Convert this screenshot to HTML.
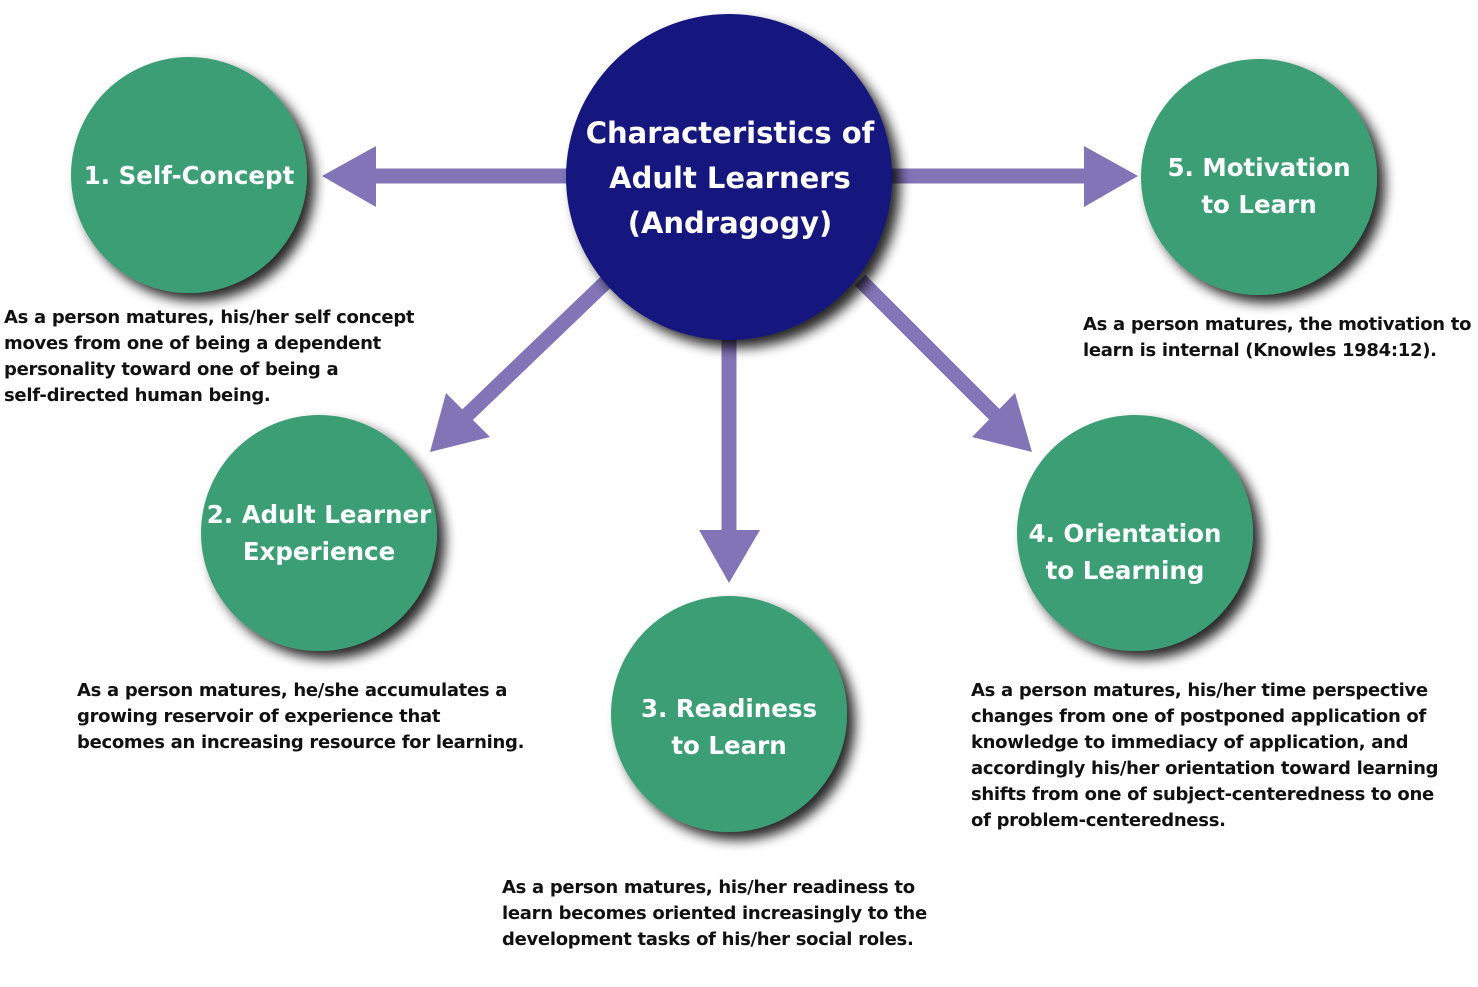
<!DOCTYPE html>
<html><head><style>
html,body{margin:0;padding:0;background:#fff;}
body{width:1478px;height:987px;position:relative;overflow:hidden;font-family:"DejaVu Sans","Liberation Sans",sans-serif;}
.t{position:absolute;font-size:18px;line-height:26px;color:#111;font-weight:600;letter-spacing:-0.3px;white-space:nowrap;}
.c{position:absolute;color:#fff;font-weight:bold;text-align:center;white-space:nowrap;}
</style></head><body>
<svg width="1478" height="987" style="position:absolute;left:0;top:0">
<defs>
<filter id="sh" x="-30%" y="-30%" width="160%" height="160%">
<feGaussianBlur in="SourceAlpha" stdDeviation="6"/>
<feOffset dx="8" dy="8" result="b"/>
<feComponentTransfer><feFuncA type="linear" slope="0.85"/></feComponentTransfer>
<feMerge><feMergeNode/><feMergeNode in="SourceGraphic"/></feMerge>
</filter>
</defs>
<g fill="#8175b7" stroke="#8175b7">
<line x1="570" y1="176" x2="370" y2="176" stroke-width="15"/>
<polygon points="322,176 376,146 376,207" stroke="none"/>
<line x1="890" y1="176" x2="1090" y2="176" stroke-width="15"/>
<polygon points="1138,176 1084,146 1084,207" stroke="none"/>
<line x1="729" y1="330" x2="729" y2="535" stroke-width="15"/>
<polygon points="729,583 699,530 760,530" stroke="none"/>
<line x1="608" y1="280" x2="462" y2="420" stroke-width="15"/>
<polygon points="430,452 446,393 490,437" stroke="none"/>
<line x1="860" y1="280" x2="1000" y2="420" stroke-width="15"/>
<polygon points="1032,452 1015,393 972,437" stroke="none"/>
</g>
<g filter="url(#sh)">
<circle cx="729" cy="177" r="163" fill="#14127f"/>
<circle cx="189" cy="175" r="118" fill="#3a9e74"/>
<circle cx="1259" cy="177" r="118" fill="#3a9e74"/>
<circle cx="319" cy="533" r="118" fill="#3a9e74"/>
<circle cx="729" cy="714" r="118" fill="#3a9e74"/>
<circle cx="1135" cy="533" r="118" fill="#3a9e74"/>
</g>
</svg>
<div class="c" style="left:567px;width:326px;top:111px;font-size:29px;line-height:45px;">Characteristics of<br>Adult Learners<br>(Andragogy)</div>
<div class="c" style="left:71px;width:236px;top:157px;font-size:24.5px;line-height:37px;">1. Self-Concept</div>
<div class="c" style="left:1141px;width:236px;top:149px;font-size:24.5px;line-height:37px;">5. Motivation<br>to Learn</div>
<div class="c" style="left:201px;width:236px;top:496px;font-size:24.5px;line-height:37px;">2. Adult Learner<br>Experience</div>
<div class="c" style="left:611px;width:236px;top:690px;font-size:24.5px;line-height:37px;">3. Readiness<br>to Learn</div>
<div class="c" style="left:1007px;width:236px;top:515px;font-size:24.5px;line-height:37px;">4. Orientation<br>to Learning</div>
<div class="t" style="left:4px;top:305px;">As a person matures, his/her self concept<br>moves from one of being a dependent<br>personality toward one of being a<br>self-directed human being.</div>
<div class="t" style="left:1083px;top:312px;">As a person matures, the motivation to<br>learn is internal (Knowles 1984:12).</div>
<div class="t" style="left:77px;top:678px;">As a person matures, he/she accumulates a<br>growing reservoir of experience that<br>becomes an increasing resource for learning.</div>
<div class="t" style="left:971px;top:678px;">As a person matures, his/her time perspective<br>changes from one of postponed application of<br>knowledge to immediacy of application, and<br>accordingly his/her orientation toward learning<br>shifts from one of subject-centeredness to one<br>of problem-centeredness.</div>
<div class="t" style="left:502px;top:875px;">As a person matures, his/her readiness to<br>learn becomes oriented increasingly to the<br>development tasks of his/her social roles.</div>
</body></html>
